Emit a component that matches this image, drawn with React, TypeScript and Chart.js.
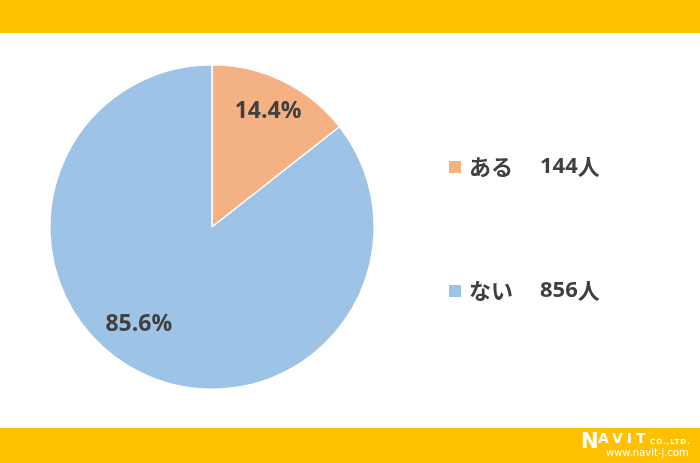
import React, { useEffect, useRef } from "react";
import { Chart, registerables } from "chart.js";

Chart.register(...registerables);

const categories = ["ある", "ない"];
const counts = [144, 856];
const percentLabels = ["14.4%", "85.6%"];
const countNumbers = ["144", "856"];
const countUnit = "人";
const sliceColors = ["#F4B183", "#9DC3E6"];

const JP = '"Noto Sans CJK JP", "Open Sans", sans-serif';
const NUM = '"Open Sans", "Noto Sans", sans-serif';

const decorPlugin = {
  id: "decor",
  beforeDraw(chart: any) {
    const { ctx, width, height } = chart;
    ctx.save();
    ctx.fillStyle = "#ffffff";
    ctx.fillRect(0, 0, width, height);
    ctx.fillStyle = "#FFC000";
    ctx.fillRect(0, 0, width, 33);
    ctx.fillRect(0, 428, width, height - 428);
    ctx.restore();
  },
  afterDraw(chart: any) {
    const { ctx } = chart;
    const meta = chart.getDatasetMeta(0);
    const t = [0.5, 0.536];
    const rf = [0.79, 0.75];
    ctx.save();
    ctx.fillStyle = "#404040";
    ctx.textAlign = "center";
    ctx.textBaseline = "middle";
    ctx.font = `bold 23px ${NUM}`;
    meta.data.forEach((arc: any, i: number) => {
      const p = arc.getProps(["x", "y", "startAngle", "endAngle", "outerRadius"], true);
      const a = p.startAngle + (p.endAngle - p.startAngle) * t[i];
      const r = p.outerRadius * rf[i];
      ctx.fillText(percentLabels[i], p.x + Math.cos(a) * r, p.y + Math.sin(a) * r);
    });
    // legend
    const ys = [167, 291];
    categories.forEach((c, i) => {
      ctx.fillStyle = sliceColors[i];
      ctx.fillRect(449, ys[i] - 6, 12, 12);
      ctx.fillStyle = "#404040";
      ctx.textAlign = "left";
      ctx.font = `bold 22px ${JP}`;
      ctx.fillText(c, 469, ys[i]);
      ctx.font = `bold 22px ${NUM}`;
      ctx.fillText(countNumbers[i], 540, ys[i]);
      const w = ctx.measureText(countNumbers[i]).width;
      ctx.font = `bold 22px ${JP}`;
      ctx.fillText(countUnit, 540 + w, ys[i]);
    });
    // logo
    ctx.fillStyle = "#ffffff";
    ctx.textAlign = "left";
    ctx.textBaseline = "alphabetic";
    ctx.font = `bold 21px "DejaVu Sans", sans-serif`;
    ctx.fillText("N", 581, 448);
    ctx.font = `bold 14px "DejaVu Sans", sans-serif`;
    (ctx as any).letterSpacing = "4px";
    ctx.fillText("AVIT", 598, 443);
    ctx.font = `bold 7px "DejaVu Sans", sans-serif`;
    (ctx as any).letterSpacing = "1px";
    ctx.fillText("CO.,LTD.", 650, 444);
    (ctx as any).letterSpacing = "0px";
    ctx.font = `10px "DejaVu Sans", sans-serif`;
    ctx.fillText("www.navit-j.com", 606, 456);
    ctx.restore();
  },
};

export default function App() {
  const ref = useRef<HTMLCanvasElement | null>(null);
  useEffect(() => {
    document.body.style.margin = "0";
    const chart = new Chart(ref.current as HTMLCanvasElement, {
      type: "pie",
      data: {
        labels: categories,
        datasets: [
          {
            data: counts,
            backgroundColor: sliceColors,
            borderColor: "#ffffff",
            borderWidth: 1.5,
          },
        ],
      },
      options: {
        animation: false,
        responsive: false,
        layout: { padding: { left: 49, right: 325, top: 64, bottom: 73 } },
        plugins: { legend: { display: false }, tooltip: { enabled: false } },
      },
      plugins: [decorPlugin],
    });
    return () => chart.destroy();
  }, []);
  return (
    <div style={{ width: 700, height: 463 }}>
      <canvas ref={ref} width={700} height={463} style={{ display: "block" }} />
    </div>
  );
}
